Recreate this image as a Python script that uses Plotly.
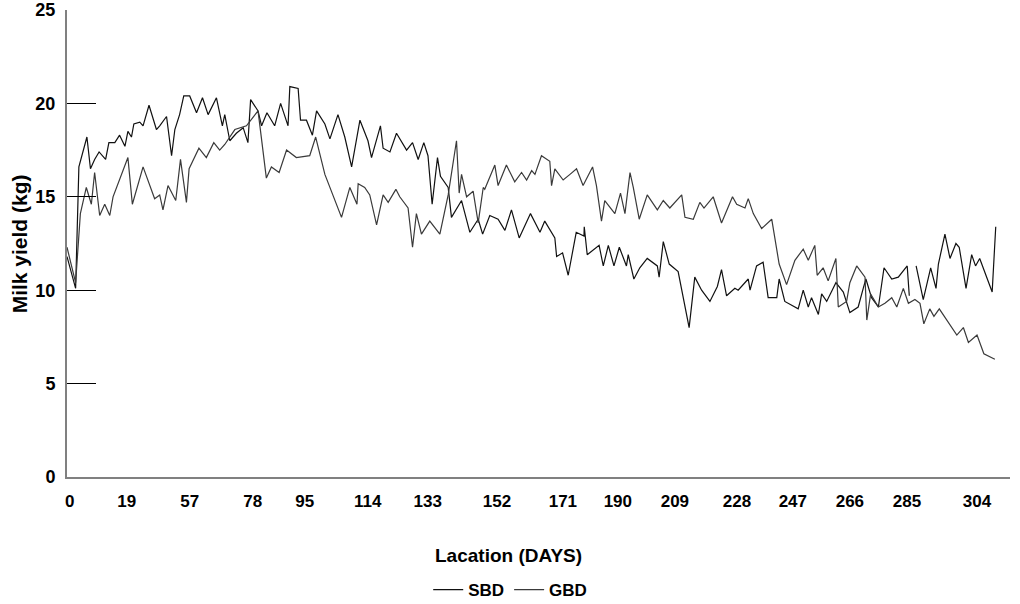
import plotly.graph_objects as go

# Lactation day (x) and milk yield in kg (y)
sbd_days = [0, 2.9, 4.0, 6.7, 7.9, 9.3, 10.8, 13.0, 14.1, 16.1, 17.7, 19.5, 20.5, 21.7, 22.5, 24.5, 25.6,
            27.6, 30.1, 31.2, 33.5, 35.2, 36.3, 37.9, 39.3, 41.3, 43.6, 45.6, 47.5, 50.3, 52.3, 53.1, 54.8,
            57.0, 59.3, 60.9, 61.8, 64.3, 65.5, 67.3, 69.9, 71.9, 74.4, 75.0, 77.8, 78.6, 80.6, 82.6, 84.0,
            86.8, 88.5, 91.2, 93.5, 95.8, 98.6, 101.3, 102.5, 105.5, 106.4, 108.7, 110.9, 114.3, 116.3,
            118.2, 120.1, 121.5, 122.9, 124.7, 125.7, 128.3, 129.4, 132.8, 135.6, 138.4, 139.9, 142.3,
            145.1, 147.4, 149.6, 152.2, 156.0, 159.2, 160.8, 164.2, 164.8, 166.8, 168.7, 171.4, 174.0,
            174.1, 175.1, 179.1, 180.5, 182.2, 184.1, 185.9, 188.3, 188.9, 190.8, 192.8, 195.3, 198.7,
            199.3, 200.7, 202.7, 205.7, 209.4, 211.3, 213.6, 216.4, 218.9, 220.3, 222.0, 224.8, 225.9,
            229.3, 229.9, 232.1, 234.3, 236.0, 238.9, 239.7, 241.6, 246.1, 247.8, 249.5, 250.6, 252.9,
            254.0, 255.7, 258.8, 261.3, 263.5, 266.3, 268.0, 268.9, 270.8, 273.1, 275.0, 277.6, 279.8,
            282.8, 283.5, 284.6, 285.8, 288.2, 290.7, 292.5, 293.3, 295.5, 297.2, 299.2, 300.3, 302.6,
            304.5, 305.8, 307.2, 311.4, 312.6]
sbd_yield = [11.8, 10.1, 16.6, 18.2, 16.5, 17.0, 17.4, 17.0, 17.9, 17.9, 18.3, 17.7, 18.5, 18.2, 18.9, 19.0, 18.8,
             19.9, 18.6, 18.8, 19.3, 17.2, 18.6, 19.4, 20.4, 20.4, 19.5, 20.3, 19.4, 20.3, 18.8, 19.4, 18.0,
             18.4, 18.7, 17.9, 20.2, 19.6, 18.8, 19.5, 18.8, 20.0, 18.8, 20.9, 20.8, 19.1, 19.1, 18.3, 19.6,
             18.9, 18.1, 19.4, 18.2, 16.6, 19.1, 18.0, 17.1, 18.8, 17.6, 17.4, 18.4, 17.5, 17.9,
             17.0, 17.9, 17.2, 14.6, 17.1, 16.1, 15.5, 13.9, 14.8, 13.1, 13.8, 13.0, 14.0,
             13.8, 13.2, 14.3, 12.8, 14.1, 13.1, 13.7, 12.8, 11.8, 12.0, 10.8, 13.1, 12.9,
             13.4, 11.9, 12.4, 11.3, 12.4, 11.3, 12.3, 11.3, 11.9, 10.6, 11.2, 11.7, 11.3,
             10.7, 12.6, 11.4, 11.0, 8.0, 10.7, 10.0, 9.4, 10.2, 11.1, 9.7, 10.1, 10.0,
             10.6, 10.0, 11.3, 11.5, 9.6, 9.6, 10.6, 9.4, 9.0, 10.0, 9.1, 9.6, 8.7,
             9.8, 9.4, 10.4, 9.9, 8.8, 9.1, 10.1, 10.6, 9.6, 9.1, 11.2, 10.6, 10.7,
             11.3, 9.7, None, 11.3, 9.5, 11.2, 10.1, 11.4, 13.0, 11.7, 12.5, 12.3, 10.1,
             11.9, 11.3, 11.7, 9.9, 13.4]

gbd_days = [0, 2.9, 4.5, 6.5, 8.2, 9.3, 11.0, 12.7, 14.4, 15.5, 20.5, 22.0, 25.6, 29.5, 31.2, 32.3, 34.0,
            36.6, 38.2, 40.2, 41.1, 44.4, 46.9, 49.4, 51.4, 53.1, 56.5, 60.4, 64.3, 67.1, 68.8, 71.4, 73.9,
            77.2, 81.7, 83.7, 86.8, 88.5, 92.4, 95.2, 97.6, 98.0, 100.2, 101.9, 104.2, 106.4, 108.1, 110.7,
            112.0, 114.8, 116.3, 117.6, 119.3, 122.1, 125.5, 128.3, 131.1, 132.0, 132.8, 134.5, 136.7,
            138.4, 140.1, 140.6, 144.0, 145.1, 147.9, 150.7, 153.0, 154.7, 156.4, 157.5, 159.7, 162.5,
            163.1, 164.2, 167.0, 169.3, 171.5, 173.7, 176.9, 178.2, 179.9, 181.0, 184.4, 186.3, 187.8,
            189.5, 190.6, 192.6, 195.3, 198.7, 200.7, 202.9, 206.9, 208.0, 210.8, 213.0, 214.4, 217.5,
            220.3, 224.0, 225.4, 228.2, 229.3, 231.0, 233.8, 237.2, 239.7, 242.2, 245.0, 247.8, 249.5,
            251.7, 252.5, 254.5, 256.2, 258.8, 259.6, 262.4, 263.5, 265.8, 268.6, 269.2, 270.5, 273.1,
            275.3, 277.6, 279.3, 281.5, 283.2, 285.4, 287.1, 288.4, 290.4, 291.8, 293.6, 299.5, 301.7,
            303.4, 306.3, 308.6, 312.3]
gbd_yield = [12.3, 10.4, 14.1, 15.5, 14.6, 16.3, 14.0, 14.6, 14.0, 15.0, 17.1, 14.6, 16.6, 14.9, 15.1, 14.3, 15.6,
             14.8, 17.0, 14.7, 16.5, 17.6, 17.1, 17.9, 17.5, 17.8, 18.6, 18.8, 19.6, 16.0, 16.6, 16.3, 17.5,
             17.1, 17.2, 18.2, 16.2, 15.5, 13.9, 15.5, 14.6, 15.7, 15.5, 15.1, 13.5, 15.1, 14.7, 15.4,
             15.0, 14.4, 12.3, 14.1, 13.0, 13.7, 13.0, 15.1, 18.0, 15.2, 16.2, 15.0, 15.3,
             13.6, 15.5, 15.4, 16.7, 15.6, 16.7, 15.8, 16.3, 15.9, 16.4, 16.2, 17.2, 16.9,
             15.6, 16.5, 15.9, 16.2, 16.5, 15.6, 16.6, 15.6, 13.7, 14.8, 14.1, 15.2, 14.1,
             16.3, 15.5, 13.8, 15.1, 14.3, 14.8, 14.4, 15.1, 13.9, 13.8, 14.7, 14.4, 15.0,
             13.6, 15.0, 14.6, 14.4, 14.9, 14.1, 13.3, 13.8, 11.4, 10.3, 11.6, 12.2, 11.6,
             12.4, 10.8, 11.2, 10.5, 11.7, 9.1, 9.4, 10.4, 11.3, 10.7, 8.4, 9.8, 9.1,
             9.3, 9.6, 9.1, 10.1, 9.3, 9.5, 9.3, 8.2, 9.0, 8.6, 9.0, 7.6, 8.0,
             7.2, 7.6, 6.6, 6.3]

tick_pos = [0.9, 20.1, 41.3, 62.5, 80.0, 101.2, 121.4, 144.7, 166.9, 185.4, 204.6, 225.5, 244.3, 263.5, 282.7, 306.3]
tick_text = ["0", "19", "57", "78", "95", "114", "133", "152", "171", "190", "209", "228", "247", "266", "285", "304"]
y_ticks = [0, 5, 10, 15, 20, 25]

FONT = "Liberation Sans, Arial, sans-serif"

fig = go.Figure()
fig.add_trace(go.Scatter(x=sbd_days, y=sbd_yield, mode="lines", name="SBD",
                         line=dict(color="#111111", width=1.2), connectgaps=False))
fig.add_trace(go.Scatter(x=gbd_days, y=gbd_yield, mode="lines", name="GBD",
                         line=dict(color="#3a3a3a", width=1.2), connectgaps=False))

fig.update_layout(
    width=1020, height=604,
    margin=dict(l=67, r=10, t=10, b=127, autoexpand=False),
    paper_bgcolor="white", plot_bgcolor="white",
    showlegend=True,
    legend=dict(orientation="h", x=0.47, xanchor="center", y=-0.242, yanchor="middle",
                font=dict(family=FONT, size=17, color="black", weight="bold"),
                itemwidth=30, traceorder="normal", bgcolor="rgba(0,0,0,0)"),
    xaxis=dict(range=[0, 317.4], showgrid=False, zeroline=False, automargin=False,
               showline=True, linecolor="#808080", linewidth=2,
               tickmode="array", tickvals=tick_pos, ticktext=tick_text,
               ticks="", ticklabelstandoff=8,
               tickfont=dict(family=FONT, size=17, color="black", weight="bold")),
    yaxis=dict(range=[0, 25], showgrid=False, zeroline=False, automargin=False,
               showline=True, linecolor="#808080", linewidth=2,
               tickmode="array", tickvals=y_ticks,
               ticks="inside", ticklen=29, tickcolor="black", tickwidth=1,
               ticklabelstandoff=6,
               tickfont=dict(family=FONT, size=18, color="black", weight="bold")),
    annotations=[
        dict(text="Lacation (DAYS)", xref="paper", yref="paper", x=0.468, y=-0.169,
             xanchor="center", yanchor="middle", showarrow=False,
             font=dict(family=FONT, size=19, color="black", weight="bold")),
        dict(text="Milk yield (kg)", xref="paper", yref="paper", x=-0.05, y=0.50,
             xanchor="center", yanchor="middle", showarrow=False, textangle=-90,
             font=dict(family=FONT, size=21, color="black", weight="bold")),
    ],
)

# remove the browser's default 8px body margin so the figure sits at the page corner
fig.write_html("out.html", config={"displayModeBar": False},
               post_script="document.body.style.margin='0';")
